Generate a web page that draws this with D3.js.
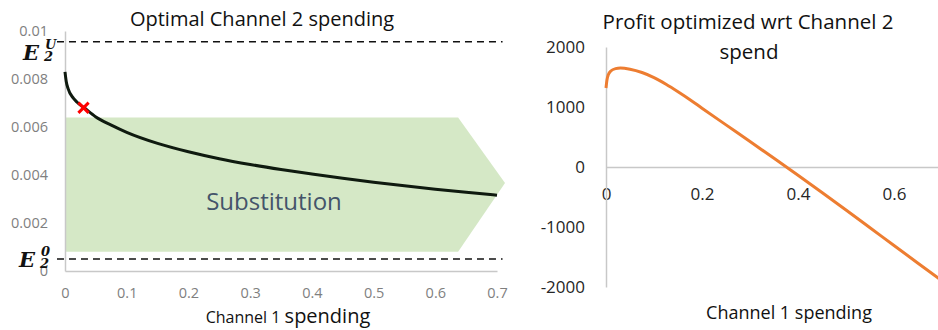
<!DOCTYPE html>
<html>
<head>
<meta charset="utf-8">
<script src="https://cdn.jsdelivr.net/npm/d3@7"></script>
<style>
  body { margin: 0; background: #fff; }
  svg { display: block; font-family: "Open Sans", sans-serif; }
</style>
</head>
<body>
<div id="chart"></div>
<script>
// left panel: optimal channel 2 spend vs channel 1 spend
const ch1Left = [0, 0.002, 0.005, 0.0135, 0.02, 0.031, 0.05, 0.075, 0.1, 0.15, 0.2, 0.25, 0.3, 0.35, 0.4, 0.45, 0.5, 0.55, 0.6, 0.65, 0.7];
const ch2Optimal = [0.0083, 0.0079, 0.0076, 0.0072, 0.00702, 0.0068, 0.00642, 0.00608, 0.00578, 0.00532, 0.00497, 0.00468, 0.00444, 0.00423, 0.00404, 0.00386, 0.0037, 0.00355, 0.00341, 0.00328, 0.00316];
const leftXTicks = [0, 0.1, 0.2, 0.3, 0.4, 0.5, 0.6, 0.7];
const leftYTicks = [0, 0.002, 0.004, 0.006, 0.008, 0.01];
const markerX = [0.03];
const markerY = [0.0068];
// shaded "Substitution" arrow
const substX = [0, 0.637, 0.713, 0.637, 0];
const substY = [0.0064, 0.0064, 0.00367, 0.0008, 0.0008];
// bounds E2^U and E2^0
const boundLevels = [0.00955, 0.0005];
const boundSpan = [-0.013, 0.709];

// right panel: profit
const ch1Right = [0, 0.002, 0.005, 0.01, 0.02, 0.03, 0.05, 0.075, 0.1, 0.125, 0.15, 0.175, 0.2, 0.25, 0.3, 0.35, 0.4, 0.45, 0.5, 0.55, 0.6, 0.65, 0.7];
const profit = [1317, 1450, 1540, 1600, 1640, 1650, 1630, 1575, 1490, 1380, 1255, 1122, 980, 702, 425, 145, -138, -425, -717, -1012, -1308, -1603, -1897];
const rightXTicks = [0, 0.2, 0.4, 0.6];
const rightYTicks = [-2000, -1000, 0, 1000, 2000];

const width = 938, height = 330;

const svg = d3.select("#chart").append("svg")
    .attr("width", width)
    .attr("height", height);

// ---------- left chart ----------
const xL = d3.scaleLinear().domain([0, 0.7]).range([65, 497]);
const yL = d3.scaleLinear().domain([0, 0.01]).range([271, 31]);

const left = svg.append("g");

left.append("path")
    .datum(substX.map((d, i) => [d, substY[i]]))
    .attr("fill", "#d5e8c6")
    .attr("d", d3.line().x(d => xL(d[0])).y(d => yL(d[1])).curve(d3.curveLinearClosed));

// axes
const gxL = left.append("g")
    .attr("transform", `translate(0,${yL(0)})`)
    .call(d3.axisBottom(xL).tickValues(leftXTicks).tickSize(0).tickPadding(17)
        .tickFormat(d3.format(".1~f")));
const gyL = left.append("g")
    .attr("transform", `translate(${xL(0)},0)`)
    .call(d3.axisLeft(yL).tickValues(leftYTicks).tickSize(0).tickPadding(17)
        .tickFormat(d3.format(".3~f")));
[gxL, gyL].forEach(g => {
    g.select(".domain").attr("stroke", "#c8c8c8").attr("stroke-width", 1.5);
    g.selectAll("text").attr("fill", "#7f7f7f").style("font-size", "14.5px")
        .style("font-family", "Open Sans");
});

// dashed bound lines
left.selectAll(".bound")
    .data(boundLevels)
    .enter().append("line")
    .attr("x1", xL(boundSpan[0]))
    .attr("x2", xL(boundSpan[1]))
    .attr("y1", d => yL(d))
    .attr("y2", d => yL(d))
    .attr("stroke", "#111")
    .attr("stroke-width", 1.6)
    .attr("stroke-dasharray", "7,5");

// optimal curve
left.append("path")
    .datum(ch1Left.map((d, i) => [d, ch2Optimal[i]]))
    .attr("fill", "none")
    .attr("stroke", "#0f1a0f")
    .attr("stroke-width", 3)
    .attr("d", d3.line().x(d => xL(d[0])).y(d => yL(d[1])).curve(d3.curveMonotoneX));

// red cross
left.selectAll(".marker")
    .data(markerX.map((d, i) => [d, markerY[i]]))
    .enter().append("path")
    .attr("transform", d => `translate(${xL(d[0])},${yL(d[1])})`)
    .attr("d", d3.symbol(d3.symbolTimes, 70))
    .attr("fill", "none")
    .attr("stroke", "#ff0000")
    .attr("stroke-width", 3);

left.append("text")
    .attr("x", 274)
    .attr("y", 210)
    .attr("text-anchor", "middle")
    .attr("fill", "#44546a")
    .style("font-size", "24px")
    .text("Substitution");

left.append("text")
    .attr("x", 262)
    .attr("y", 26)
    .attr("text-anchor", "middle")
    .attr("fill", "#111")
    .style("font-size", "20px")
    .text("Optimal Channel 2 spending");

const tL = left.append("text")
    .attr("x", 288)
    .attr("y", 323)
    .attr("text-anchor", "middle")
    .attr("fill", "#111");
tL.append("tspan").style("font-size", "16px").text("Channel 1 ");
tL.append("tspan").style("font-size", "20px").text("spending");

// E labels
function eLabel(x, y, sup) {
    const g = left.append("g")
        .style("font-family", "DejaVu Serif")
        .style("font-weight", "bold")
        .style("font-style", "italic")
        .attr("fill", "#111");
    g.append("text").attr("x", x).attr("y", y).style("font-size", "21px").text("E");
    g.append("text").attr("x", x + 22).attr("y", y - 11).style("font-size", "13px").text(sup);
    g.append("text").attr("x", x + 21).attr("y", y + 1).style("font-size", "13px").text("2");
}
eLabel(23, yL(boundLevels[0]) + 18, "U");
eLabel(19, yL(boundLevels[1]) + 8, "0");

// ---------- right chart ----------
const xR = d3.scaleLinear().domain([0, 0.6]).range([606, 894]);
const yR = d3.scaleLinear().domain([-2000, 2000]).range([287, 47]);

const right = svg.append("g");

const gxR = right.append("g")
    .attr("transform", `translate(0,${yR(0)})`)
    .call(d3.axisBottom(xR.copy().domain([0, 0.7]).range([606, 942])).tickValues(rightXTicks)
        .tickSize(0).tickPadding(21).tickFormat(d3.format(".1~f")));
const gyR = right.append("g")
    .attr("transform", `translate(${xR(0)},0)`)
    .call(d3.axisLeft(yR).tickValues(rightYTicks).tickSize(0).tickPadding(21)
        .tickFormat(d => String(d)));
[gxR, gyR].forEach(g => {
    g.select(".domain").attr("stroke", "#c8c8c8").attr("stroke-width", 1.5);
    g.selectAll("text").attr("fill", "#262626").style("font-size", "17px")
        .style("font-family", "Open Sans");
});

right.append("path")
    .datum(ch1Right.map((d, i) => [d, profit[i]]))
    .attr("fill", "none")
    .attr("stroke", "#ed7d31")
    .attr("stroke-width", 3)
    .attr("d", d3.line().x(d => xR(d[0])).y(d => yR(d[1])).curve(d3.curveMonotoneX));

right.append("text")
    .attr("x", 748)
    .attr("y", 29)
    .attr("text-anchor", "middle")
    .attr("fill", "#111")
    .style("font-size", "20.5px")
    .text("Profit optimized wrt Channel 2");
right.append("text")
    .attr("x", 749)
    .attr("y", 59)
    .attr("text-anchor", "middle")
    .attr("fill", "#111")
    .style("font-size", "20.5px")
    .text("spend");

right.append("text")
    .attr("x", 789)
    .attr("y", 319)
    .attr("text-anchor", "middle")
    .attr("fill", "#111")
    .style("font-size", "18px")
    .text("Channel 1 spending");
</script>
</body>
</html>
